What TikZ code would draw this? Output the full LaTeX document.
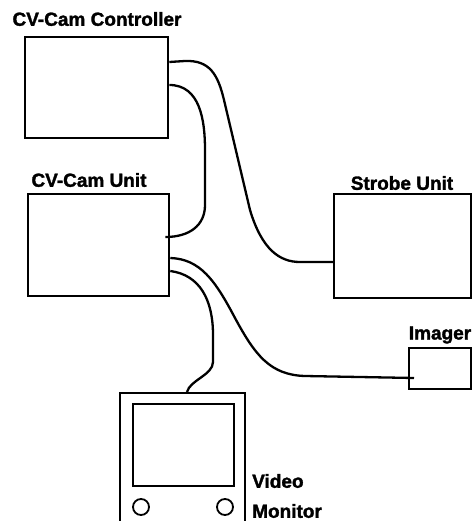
\documentclass[tikz,border=0pt]{standalone}
\usepackage{fontspec}
\setmainfont{Liberation Sans}
\newfontfamily\tagfont{Liberation Sans Bold}[FakeBold=1.6]
\usetikzlibrary{calc}
\begin{document}
\begin{tikzpicture}[x=1pt,y=-1pt,
  unitbox/.style={draw,line width=2.3pt,anchor=north west,inner sep=0pt},
  knob/.style={draw,line width=1.8pt,circle,minimum size=16pt,inner sep=0pt},
  cable/.style={line width=2.3pt,line join=round},
  tag/.style={font=\tagfont\fontsize{19}{21}\selectfont,inner sep=0pt}]
\useasboundingbox (0,0) rectangle (472,521);
\clip (0,0) rectangle (472,521);

% equipment boxes
\node[unitbox,minimum width=143pt,minimum height=101pt] (ctrl) at (24,36) {};
\node[unitbox,minimum width=141pt,minimum height=102pt] (cam) at (27,193) {};
\node[unitbox,minimum width=137pt,minimum height=104pt] (strobe) at (333,193) {};
\node[unitbox,minimum width=62pt,minimum height=41pt] (imager) at (408,347) {};
\node[unitbox,minimum width=125pt,minimum height=140pt] (monitor) at (119,392) {};
\node[unitbox,minimum width=101pt,minimum height=82pt] (screen) at (132,403) {};
\node[knob] (knobL) at (141,507) {};
\node[knob] (knobR) at (225,507) {};

% labels
\node[tag] (lctrl) at (97,19) {CV-Cam Controller};
\node[tag] (lcam) at (89,180) {CV-Cam Unit};
\node[tag] (lstrobe) at (402,183) {Strobe Unit};
\node[tag] (limager) at (440,335) {Imager};
\node[tag,anchor=west] (lvideo) at (252,481) {Video};
\node[tag,anchor=west] (lmon) at (252,511) {Monitor};

% cable ports
\coordinate (c1) at (ctrl.east |- 0,62);
\coordinate (c2) at (ctrl.east |- 0,85);
\coordinate (u1) at ($(cam.east |- 0,237)+(-5,0)$);
\coordinate (u2) at (cam.east |- 0,258);
\coordinate (u3) at (cam.east |- 0,271);
\coordinate (s1) at (strobe.west |- 0,262);
\coordinate (i1) at ($(imager.west |- 0,378)+(6,0)$);

% cables
\draw[cable] (c1) -- (185,61) .. controls (210,60) and (218,75) .. (224,100)
  -- (250,210) .. controls (262,250) and (280,262) .. (300,262) -- (s1);
\draw[cable] (c2) .. controls (200,85) and (205,120) .. (205,150)
  -- (205,205) .. controls (205,225) and (190,237) .. (u1);
\draw[cable] (u2) .. controls (200,259) and (215,280) .. (235,318)
  .. controls (255,355) and (270,375) .. (305,376) -- (i1);
\draw[cable] (u3) .. controls (200,275) and (213,300) .. (213,335)
  -- (213,362) .. controls (213,375) and (190,380) .. (monitor.north -| 187,0);
\end{tikzpicture}
\end{document}
